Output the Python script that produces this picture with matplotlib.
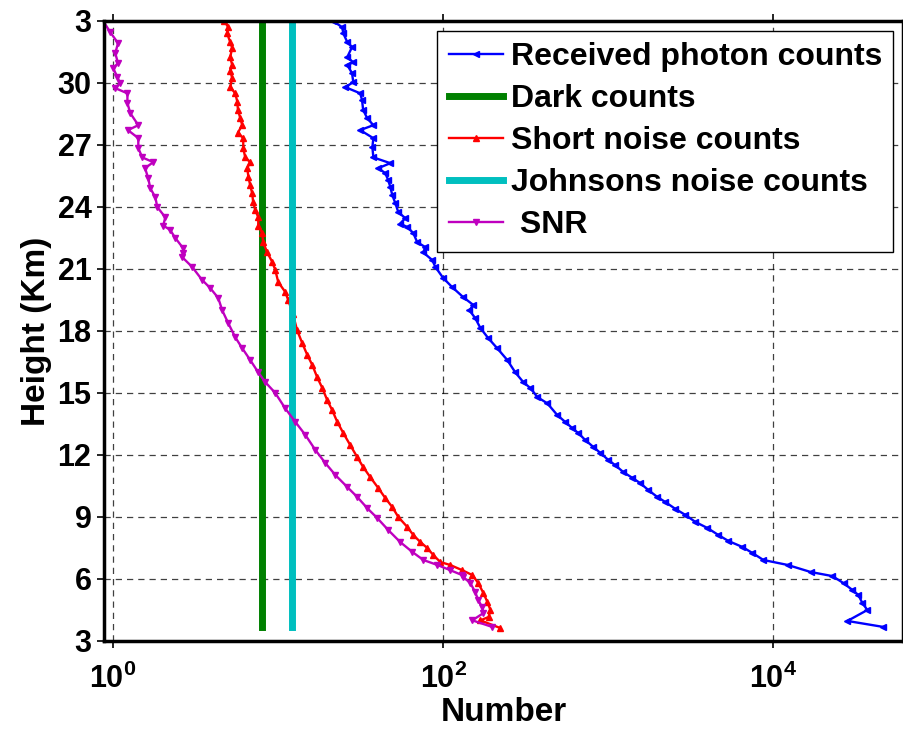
"""Lidar counts and SNR versus height (reconstruction)."""

import matplotlib
matplotlib.use("Agg")
import matplotlib.pyplot as plt

# Received photon counts (blue)
photon_h = [3.68, 3.97, 4.50, 4.84, 5.23, 5.47, 5.80, 6.14, 6.34, 6.68, 6.92, 7.26,
            7.55, 7.84, 8.13, 8.47, 8.76, 9.10, 9.39, 9.72, 9.97, 10.30, 10.64, 10.89,
            11.18, 11.51, 11.76, 12.10, 12.39, 12.72, 13.06, 13.30, 13.60, 13.93, 14.50,
            14.80, 15.24, 15.53, 16.00, 16.60, 17.17, 17.66, 18.14, 18.63, 19.00, 19.26,
            19.64, 20.13, 20.56, 21.10, 21.43, 21.80, 22.06, 22.30, 22.74, 23.03, 23.20,
            23.46, 23.75, 24.19, 24.58, 24.96, 25.30, 25.64, 25.88, 26.12, 26.40, 26.90,
            27.33, 27.72, 27.96, 28.30, 28.70, 29.17, 29.50, 29.80, 30.04, 30.48, 30.87,
            31.00, 31.25, 31.74, 31.98, 32.40, 32.70, 33.00]
photon_n = [46400, 28100, 37100, 34600, 32700, 30100, 26600, 22800, 16800, 12200, 8700, 7460,
            6490, 5340, 4640, 3980, 3370, 2930, 2550, 2220, 1980, 1750, 1560, 1400,
            1230, 1100, 1000, 895, 811, 726, 658, 605, 548, 491, 427,
            372, 337, 305, 273, 244, 212, 187, 168, 156, 144, 152,
            132, 113, 100, 89.5, 85.8, 75.7, 77.8, 69.5, 65.8, 60.5, 54.8,
            58.9, 53.4, 51.2, 49.1, 47.8, 46.4, 44.5, 40.4, 47.8, 37.7, 37.2,
            37.7, 31.4, 37.7, 34.6, 32.7, 32.2, 31.4, 25.5, 28.5, 28.0, 26.2,
            28.5, 26.2, 28.0, 26.2, 24.8, 24.4, 21.5]

# Short noise counts (red)
shot_h = [3.63, 4.00, 4.16, 4.50, 4.89, 5.32, 5.80, 6.19, 6.43, 6.68, 6.82, 7.16,
          7.50, 7.79, 8.13, 8.52, 9.00, 9.48, 9.92, 10.40, 10.93, 11.42, 11.90, 12.48,
          13.06, 13.60, 14.18, 14.66, 15.24, 15.77, 16.35, 16.84, 17.40, 18.05, 18.80,
          19.50, 19.90, 20.37, 20.95, 21.34, 21.80, 22.30, 22.74, 23.10, 23.50, 23.85,
          24.24, 24.67, 25.06, 25.45, 25.88, 26.17, 26.40, 26.85, 27.33, 27.60, 27.96,
          28.30, 28.70, 29.10, 29.50, 29.80, 30.24, 30.60, 30.87, 31.25, 31.70, 31.98,
          32.40, 32.70, 33.00]
shot_n = [221, 168, 188, 193, 185, 175, 163, 150, 130, 110, 96, 87,
          80.0, 72.6, 65.8, 60.5, 53.4, 49.1, 44.5, 40.4, 36.1, 32.7, 30.1, 27.3,
          24.8, 22.8, 21.2, 19.8, 18.5, 17.2, 16.1, 15.0, 14.0, 13.0, 12.3,
          11.5, 11.0, 10.0, 9.6, 9.2, 8.58, 8.1, 8.0, 7.57, 7.57, 7.26,
          7.05, 6.95, 6.76, 6.6, 6.49, 6.76, 6.31, 6.14, 6.14, 5.7, 6.05,
          5.89, 5.7, 5.65, 5.49, 5.12, 5.26, 5.12, 5.26, 5.12, 5.26, 5.12,
          4.9, 4.98, 4.71]

# SNR (magenta)
snr_h = [3.68, 4.00, 4.35, 4.64, 4.98, 5.37, 5.80, 6.10, 6.19, 6.43, 6.68, 6.92,
         7.31, 7.79, 8.37, 8.95, 9.43, 9.97, 10.45, 11.03, 11.61, 12.24, 12.97, 13.60,
         14.27, 15.00, 15.53, 16.00, 16.60, 17.17, 17.70, 18.38, 19.00, 19.60, 20.08,
         20.47, 21.10, 21.60, 21.77, 22.00, 22.50, 22.90, 23.10, 23.50, 24.00, 24.48,
         24.90, 25.40, 25.88, 26.17, 26.40, 26.85, 27.33, 27.72, 27.96, 28.54, 29.03,
         29.50, 29.75, 30.00, 30.29, 30.72, 30.96, 31.44, 31.93, 32.46, 33.00]
snr_n = [198, 150, 175, 172, 163, 156, 146, 132, 130, 110, 92, 75.7,
         64.9, 54.8, 46.4, 39.8, 34.6, 30.1, 26.2, 22.2, 19.3, 16.8, 14.6, 12.7,
         11.0, 9.6, 8.34, 7.57, 6.76, 6.05, 5.49, 4.98, 4.58, 4.33, 3.87,
         3.46, 3.01, 2.6, 2.66, 2.66, 2.38, 2.21, 2.01, 2.07, 1.85, 1.80,
         1.68, 1.63, 1.56, 1.75, 1.50, 1.42, 1.42, 1.23, 1.42, 1.27, 1.22,
         1.22, 1.03, 1.10, 1.06, 1.00, 1.07, 1.03, 1.07, 0.96, 0.87]

# constant noise levels, drawn as vertical bars
dark_level = 8.0
johnson_level = 12.1
bar_h = [3.68, 33.0]

y_ticks = [3, 6, 9, 12, 15, 18, 21, 24, 27, 30, 33]
y_tick_labels = ["3", "6", "9", "12", "15", "18", "21", "24", "27", "30", "3"]
x_ticks = [1, 100, 10000]
x_tick_labels = [r"$\mathbf{10^{0}}$", r"$\mathbf{10^{2}}$", r"$\mathbf{10^{4}}$"]

plt.rcParams["font.family"] = ["Liberation Sans", "DejaVu Sans"]
plt.rcParams["font.weight"] = "bold"
plt.rcParams["mathtext.fontset"] = "custom"
plt.rcParams["mathtext.rm"] = "Liberation Sans:bold"
plt.rcParams["mathtext.bf"] = "Liberation Sans:bold"

fig = plt.figure(figsize=(9.04, 7.31), dpi=100)
ax = fig.add_axes([104 / 904, 1 - 641 / 731, 799 / 904, 620 / 731])

ax.plot(photon_n, photon_h, color="#0000ff", lw=1.7, marker="<", ms=4.5,
        label="Received photon counts")
ax.plot([dark_level, dark_level], bar_h, color="#008000", lw=5, label="Dark counts")
ax.plot(shot_n, shot_h, color="#ff0000", lw=1.7, marker="^", ms=4.5,
        label="Short noise counts")
ax.plot([johnson_level, johnson_level], bar_h, color="#00bfbf", lw=5,
        label="Johnsons noise counts")
ax.plot(snr_n, snr_h, color="#bf00bf", lw=1.7, marker="v", ms=4.5, label=" SNR")

ax.set_xscale("log")
ax.set_xlim(0.88, 6.1e4)
ax.set_ylim(3, 33)
ax.set_xticks(x_ticks)
ax.set_xticklabels(x_tick_labels)
ax.minorticks_off()
ax.set_yticks(y_ticks)
ax.set_yticklabels(y_tick_labels)
ax.tick_params(axis="both", labelsize=22, length=5, width=1.2, direction="out",
               top=True, right=True)
ax.tick_params(axis="y", pad=4)
ax.tick_params(axis="x", pad=11)
ax.grid(True, color="black", ls=(0, (5, 4)), lw=0.9, alpha=0.75)
for side in ax.spines.values():
    side.set_linewidth(2.5)

ax.set_xlabel("Number", fontsize=24, fontweight="bold", labelpad=2)
ax.set_ylabel("Height (Km)", fontsize=24, fontweight="bold", labelpad=4)

leg = ax.legend(loc="upper right", fontsize=23, frameon=True, fancybox=False,
                edgecolor="black", framealpha=1, handlelength=1.7,
                handletextpad=0.25, labelspacing=0.38, borderpad=0.35,
                borderaxespad=0.3)
leg.get_frame().set_linewidth(1.0)
for t in leg.get_texts():
    t.set_fontweight("bold")

fig.savefig("out.png", dpi=100)
